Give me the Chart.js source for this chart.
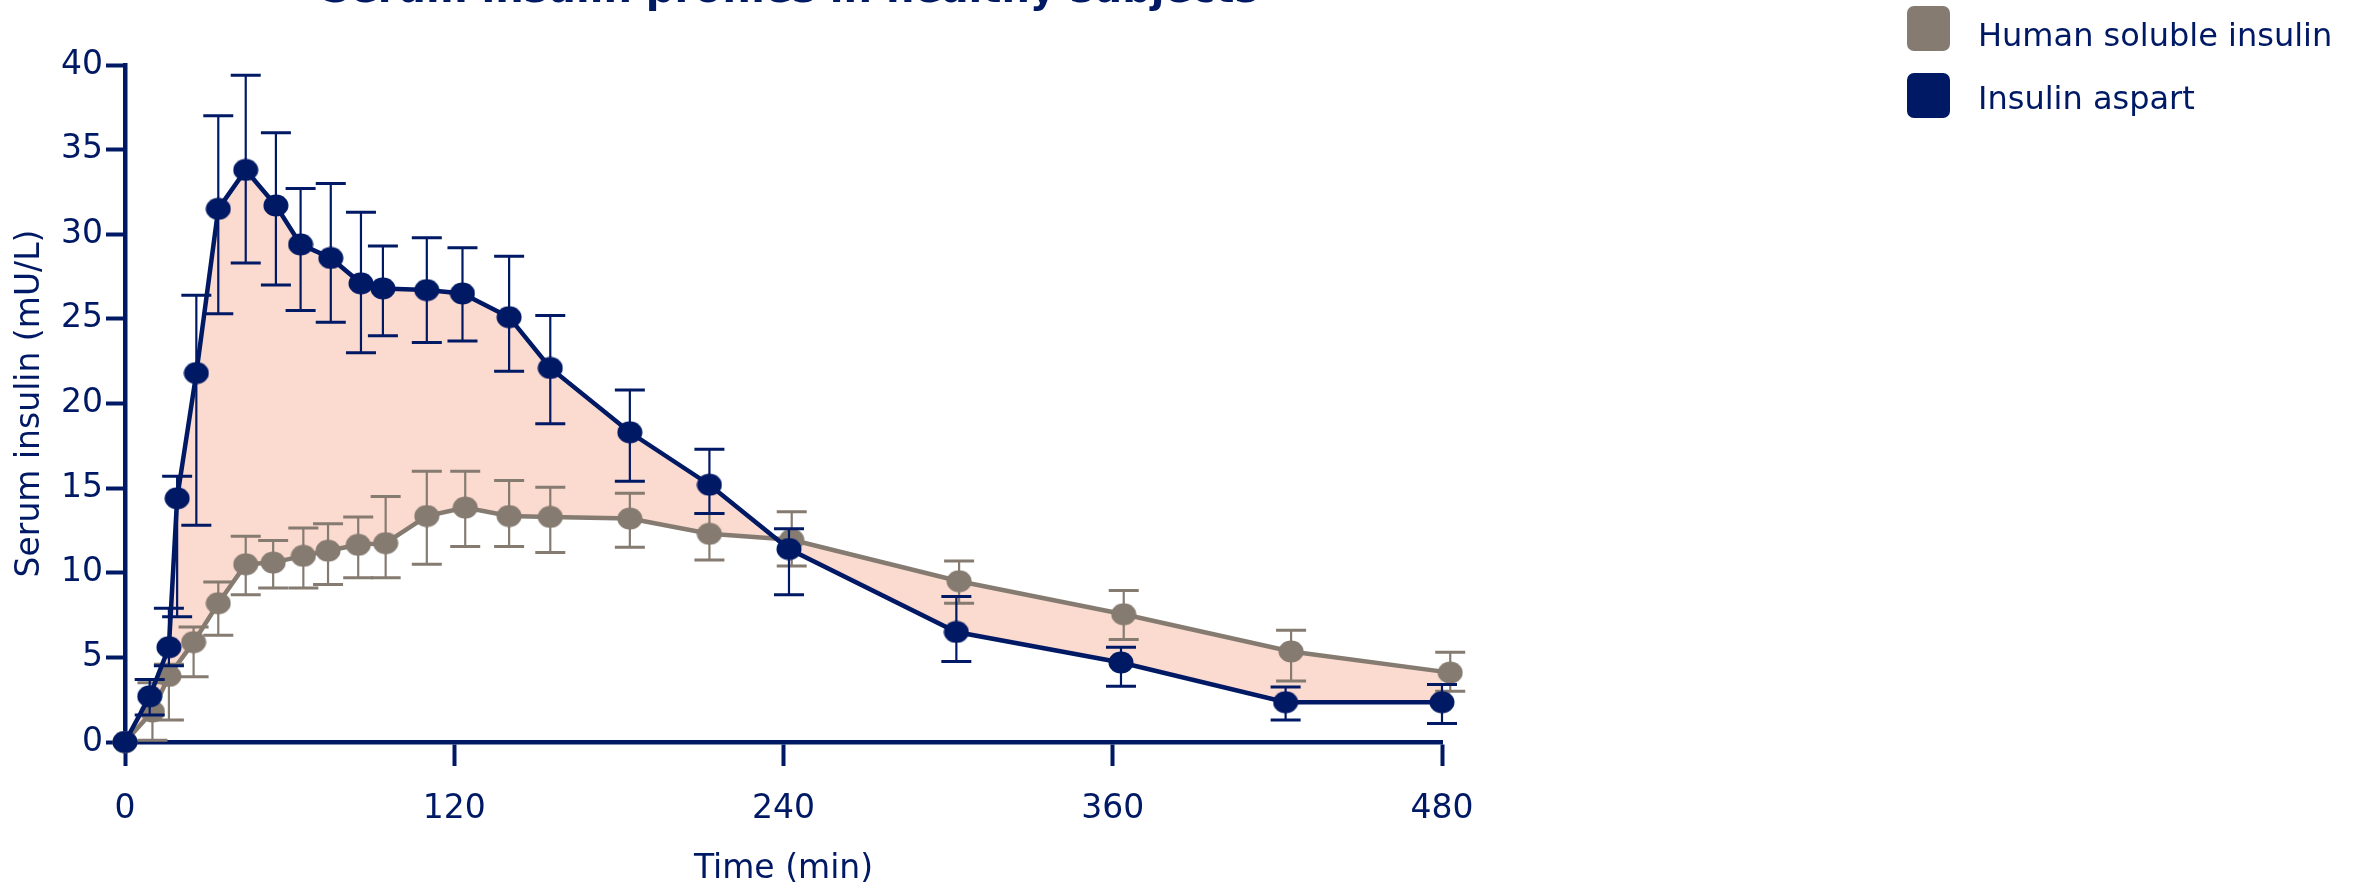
<!DOCTYPE html>
<html>
<head>
<meta charset="utf-8">
<title>Serum insulin profiles</title>
<script src="https://cdn.jsdelivr.net/npm/chart.js@4"></script>
<style>
  html, body { margin: 0; padding: 0; background: #fff; }
  #wrap { position: relative; width: 2359px; height: 889px; overflow: hidden; }
  #legend { position: absolute; left: 1907px; top: 6px; font-family: "DejaVu Sans", Verdana, sans-serif; font-size: 32px; color: #001965; }
  .leg-box { position: absolute; left: 0; width: 43px; height: 45px; border-radius: 7px; }
  .leg-text { position: absolute; left: 71px; line-height: 32px; white-space: nowrap; }
</style>
</head>
<body>
<div id="wrap">
  <canvas id="chartInsulin" width="2359" height="889"></canvas>
  <div id="legend"></div>
</div>

<script>
/* ---------- datos (min / mU/L) ---------- */
const chartTitle = "Serum insulin profiles in healthy subjects";
const seriesNames = ["Human soluble insulin", "Insulin aspart"];

const timeHuman  = [0, 10, 16, 25, 34, 44, 54, 65, 74, 85, 95, 110, 124, 140, 155, 184, 213, 243, 304, 364, 425, 483];
const humanMean  = [0, 1.8, 3.9, 5.9, 8.2, 10.5, 10.6, 11.0, 11.3, 11.65, 11.75, 13.35, 13.85, 13.35, 13.3, 13.2, 12.3, 11.95, 9.5, 7.55, 5.35, 4.1];
const humanUpper = [0, 3.5, 4.6, 6.8, 9.45, 12.15, 11.9, 12.65, 12.9, 13.3, 14.5, 16.0, 16.0, 15.45, 15.05, 14.7, 13.5, 13.6, 10.7, 8.95, 6.6, 5.3];
const humanLower = [0, 0.1, 1.3, 3.85, 6.3, 8.7, 9.1, 9.1, 9.3, 9.7, 9.7, 10.5, 11.55, 11.55, 11.2, 11.5, 10.75, 10.4, 8.2, 6.05, 3.6, 3.0];

const timeAspart  = [0, 9, 16, 19, 26, 34, 44, 55, 64, 75, 86, 94, 110, 123, 140, 155, 184, 213, 242, 303, 363, 423, 480];
const aspartMean  = [0, 2.7, 5.6, 14.4, 21.8, 31.5, 33.8, 31.7, 29.4, 28.6, 27.1, 26.8, 26.7, 26.5, 25.1, 22.1, 18.3, 15.2, 11.4, 6.5, 4.7, 2.35, 2.35];
const aspartUpper = [0, 3.7, 7.9, 15.7, 26.4, 37.0, 39.4, 36.0, 32.7, 33.0, 31.3, 29.3, 29.8, 29.2, 28.7, 25.2, 20.8, 17.3, 12.6, 8.6, 5.6, 3.25, 3.4];
const aspartLower = [0, 1.6, 4.5, 7.4, 12.8, 25.3, 28.3, 27.0, 25.5, 24.8, 23.0, 24.0, 23.6, 23.7, 21.9, 18.8, 15.4, 13.5, 8.7, 4.75, 3.3, 1.3, 1.1];

const xTickValues = [0, 120, 240, 360, 480];
const yTickValues = [0, 5, 10, 15, 20, 25, 30, 35, 40];

/* ---------- colores ---------- */
const NAVY = "#001965";
const GREY = "#857b71";
const AREA = "rgb(251, 218, 207)";
const FONT = "'DejaVu Sans', Verdana, sans-serif";

// marcador ovalado (un poco más ancho que alto)
function dotImage(color) {
    const c = document.createElement("canvas");
    c.width = 26;
    c.height = 23;
    const g = c.getContext("2d");
    g.fillStyle = color;
    g.beginPath();
    g.ellipse(13, 11.5, 12.5, 11, 0, 0, Math.PI * 2);
    g.fill();
    return c;
}

function toPoints(xs, ys) {
    return xs.map((t, i) => ({ x: t, y: ys[i] }));
}

/* ---------- barras de error ---------- */
const errorBars = {
    id: "errorBars",
    beforeDatasetDraw(chart, args) {
        const ds = chart.data.datasets[args.index];
        if (!ds.errHigh) return;
        const sx = chart.scales.x;
        const sy = chart.scales.y;
        const ctx = chart.ctx;
        ctx.save();
        ctx.strokeStyle = ds.borderColor;
        ds.data.forEach((p, i) => {
            const hi = ds.errHigh[i], lo = ds.errLow[i];
            if (hi === lo) return;
            const px = sx.getPixelForValue(p.x);
            const pTop = sy.getPixelForValue(hi);
            const pBot = sy.getPixelForValue(lo);
            ctx.lineWidth = 2.2;
            ctx.beginPath();
            ctx.moveTo(px, pTop);
            ctx.lineTo(px, pBot);
            ctx.stroke();
            ctx.lineWidth = 3;
            ctx.beginPath();
            ctx.moveTo(px - 15, pTop); ctx.lineTo(px + 15, pTop);
            ctx.moveTo(px - 15, pBot); ctx.lineTo(px + 15, pBot);
            ctx.stroke();
        });
        ctx.restore();
    }
};

/* ---------- título (queda cortado arriba) ---------- */
const topTitle = {
    id: "topTitle",
    afterDraw(chart) {
        const ctx = chart.ctx;
        ctx.save();
        ctx.font = "bold 40px " + FONT;
        ctx.fillStyle = NAVY;
        ctx.textAlign = "center";
        ctx.textBaseline = "alphabetic";
        ctx.fillText(chartTitle, 790, 2);
        ctx.restore();
    }
};

const datasets = [
    {
        label: seriesNames[0],
        data: toPoints(timeHuman, humanMean),
        errHigh: humanUpper,
        errLow: humanLower,
        borderColor: GREY,
        backgroundColor: GREY,
        borderWidth: 4.5,
        pointStyle: dotImage(GREY),
        pointRadius: 12,
        tension: 0,
        fill: false,
        clip: false,
        order: 1
    },
    {
        label: seriesNames[1],
        data: toPoints(timeAspart, aspartMean),
        errHigh: aspartUpper,
        errLow: aspartLower,
        borderColor: NAVY,
        backgroundColor: NAVY,
        borderWidth: 4.5,
        pointStyle: dotImage(NAVY),
        pointRadius: 12,
        tension: 0,
        fill: { target: 0, above: AREA, below: AREA },
        clip: false,
        order: 0
    }
];

const chart = new Chart(document.getElementById("chartInsulin"), {
    type: "line",
    data: { datasets },
    plugins: [errorBars, topTitle],
    options: {
        responsive: false,
        animation: false,
        events: [],
        layout: { padding: { left: 0, top: 65, right: 917, bottom: 0 } },
        plugins: {
            legend: { display: false },
            tooltip: { enabled: false },
            filler: { drawTime: "beforeDatasetsDraw" }
        },
        scales: {
            x: {
                type: "linear",
                min: 0,
                max: 480,
                afterBuildTicks: s => { s.ticks = xTickValues.map(v => ({ value: v })); },
                afterFit: s => { s.height = 147; },
                border: { display: true, color: NAVY, width: 4.5 },
                grid: { drawOnChartArea: false, drawTicks: true, tickLength: 24, tickWidth: 4, tickColor: NAVY },
                ticks: { color: NAVY, font: { family: FONT, size: 33 }, padding: 24, maxRotation: 0, autoSkip: false },
                title: { display: true, text: "Time (min)", color: NAVY, font: { family: FONT, size: 33 }, padding: { top: 0, bottom: 0 } }
            },
            y: {
                min: 0,
                max: 40,
                afterBuildTicks: s => { s.ticks = yTickValues.map(v => ({ value: v })); },
                afterFit: s => { s.width = 125; },
                border: { display: true, color: NAVY, width: 4.5 },
                grid: { drawOnChartArea: false, drawTicks: true, tickLength: 19, tickWidth: 4, tickColor: NAVY },
                ticks: { color: NAVY, font: { family: FONT, size: 33 }, padding: 3 },
                title: { display: true, text: "Serum insulin (mU/L)", color: NAVY, font: { family: FONT, size: 33 }, padding: { top: 11, bottom: 0 } }
            }
        }
    }
});

/* ---------- leyenda ---------- */
const legend = document.getElementById("legend");
chart.data.datasets.forEach((ds, i) => {
    const box = document.createElement("div");
    box.className = "leg-box";
    box.style.top = (i * 67) + "px";
    box.style.background = ds.borderColor;
    const txt = document.createElement("div");
    txt.className = "leg-text";
    txt.style.top = (12.6 + i * 63.6) + "px";
    txt.textContent = ds.label;
    legend.appendChild(box);
    legend.appendChild(txt);
});
</script>
</body>
</html>
